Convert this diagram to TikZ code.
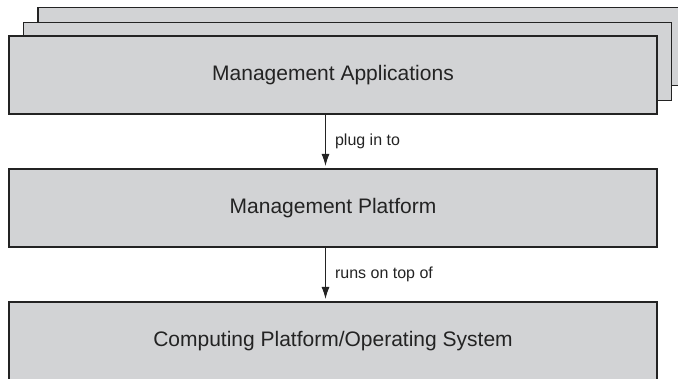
\documentclass[tikz,border=0pt]{standalone}
\usepackage{fontspec}
\setmainfont{Liberation Sans}
\usetikzlibrary{arrows.meta,calc}
\definecolor{boxfill}{RGB}{210,211,213}
\definecolor{boxline}{RGB}{35,35,35}
\tikzset{
  layer/.style={draw=boxline, fill=boxfill, line width=1.5pt, minimum width=648pt, minimum height=78pt, inner sep=0pt, outer sep=0pt, text=boxline, font=\fontsize{21}{24}\selectfont},
  arr/.style={draw=boxline, line width=1.1pt, -{Latex[length=12pt,width=8pt]}},
  lbl/.style={anchor=west, inner sep=0pt, font=\fontsize{16}{18}\selectfont, text=boxline}
}
\begin{document}
\begin{tikzpicture}[x=1pt,y=-1pt]
\useasboundingbox (0,0) rectangle (678,379);
\node[layer] (back2) at (362,46.5) {};
\node[layer] (back1) at (347.5,61.5) {};
\node[layer] (ma) at (333,75) {Management Applications};
\node[layer] (mp) at (333,208) {Management Platform};
\node[layer] (cp) at (333,341) {Computing Platform/Operating System};
\coordinate (ax) at (325.5,0);
\draw[arr] (ma.south -| ax) -- ($(mp.north -| ax)+(0,-3)$) node[midway, lbl, xshift=9pt, yshift=-1pt] {plug in to};
\draw[arr] (mp.south -| ax) -- ($(cp.north -| ax)+(0,-3)$) node[midway, lbl, xshift=9pt, yshift=-1pt] {runs on top of};
\end{tikzpicture}
\end{document}
